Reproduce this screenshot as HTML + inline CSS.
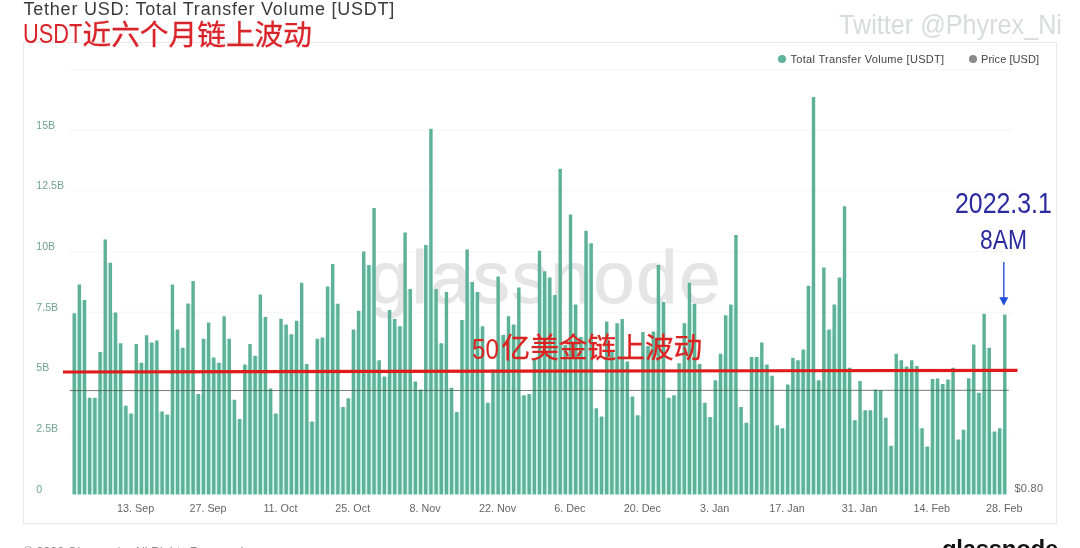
<!DOCTYPE html>
<html lang="zh">
<head>
<meta charset="utf-8">
<title>Tether USD: Total Transfer Volume [USDT]</title>
<style>
html,body{margin:0;padding:0;background:#fff;}
body{width:1080px;height:548px;overflow:hidden;position:relative;font-family:"Liberation Sans","Noto Sans CJK SC",sans-serif;}
.abs{position:absolute;white-space:nowrap;line-height:1;transform-origin:0 0;}
.cjk{font-family:"Noto Sans CJK SC","Liberation Sans",sans-serif;font-weight:400;}
#title{left:23.5px;top:-0.3px;font-size:18px;letter-spacing:0.77px;color:#3a3a3a;}
#subA{left:23px;top:19.1px;color:#da242a;font-size:28.5px;transform:scaleX(0.765);}
#subB{left:82.5px;top:18.5px;color:#da242a;font-size:28.7px;-webkit-text-stroke:0.3px #da242a;}
#tw{left:838.5px;top:10.7px;font-size:27.5px;color:#d9dbdb;transform:scaleX(0.916);}
#box{position:absolute;left:23px;top:42px;width:1032px;height:480px;border:1px solid #e9e9e9;box-sizing:content-box;}
.leg{font-size:11px;color:#444;top:53.5px;}
.dot{position:absolute;width:8px;height:8px;border-radius:50%;top:55px;}
.yl{position:absolute;left:36.3px;font-size:10.6px;line-height:14px;color:#6fa391;white-space:nowrap;}
.xl{position:absolute;top:501px;width:60px;text-align:center;font-size:10.8px;line-height:14px;color:#666;white-space:nowrap;}
#wm{left:368.5px;top:241px;font-size:74.3px;letter-spacing:1.66px;color:#e5e5e5;-webkit-text-stroke:0.8px #e5e5e5;}
#annA{left:471.6px;top:334.7px;color:#dd2222;font-size:29px;transform:scaleX(0.83);}
#annB{left:501.5px;top:332.2px;color:#dd2222;font-size:28.7px;-webkit-text-stroke:0.3px #dd2222;}
.blue{color:#2b2aa0;font-size:29.6px;}
#b1{left:955px;top:188px;transform:scaleX(0.841);}
#b2{left:980.2px;top:226.4px;font-size:28px;transform:scaleX(0.815);}
#price{left:1014.5px;top:481px;font-size:11px;line-height:14px;color:#666;letter-spacing:0.25px;}
#foot{left:23.6px;top:545.8px;font-size:12.5px;color:#8a8a8a;}
#logo{left:942px;top:537.2px;font-size:24px;font-weight:700;color:#111;letter-spacing:-0.3px;}
svg{position:absolute;left:0;top:0;}
.grp{position:absolute;left:0;top:0;width:0;height:0;}
</style>
</head>
<body>
<div id="box"></div>
<div id="title" class="abs">Tether USD: Total Transfer Volume [USDT]</div>
<div id="tw" class="abs">Twitter @Phyrex_Ni</div>
<div class="dot" style="left:778px;background:#5fb398"></div>
<div id="leg1" class="abs leg" style="left:790.5px;letter-spacing:0.3px">Total Transfer Volume [USDT]</div>
<div class="dot" style="left:969px;background:#8a8a8a"></div>
<div id="leg2" class="abs leg" style="left:981px;letter-spacing:0.05px">Price [USD]</div>
<div class="yl" style="top:481.90px">0</div><div class="yl" style="top:421.17px">2.5B</div><div class="yl" style="top:360.44px">5B</div><div class="yl" style="top:299.71px">7.5B</div><div class="yl" style="top:238.98px">10B</div><div class="yl" style="top:178.25px">12.5B</div><div class="yl" style="top:117.52px">15B</div>
<div class="xl" style="left:105.64px">13. Sep</div><div class="xl" style="left:178.02px">27. Sep</div><div class="xl" style="left:250.40px">11. Oct</div><div class="xl" style="left:322.78px">25. Oct</div><div class="xl" style="left:395.16px">8. Nov</div><div class="xl" style="left:467.54px">22. Nov</div><div class="xl" style="left:539.92px">6. Dec</div><div class="xl" style="left:612.30px">20. Dec</div><div class="xl" style="left:684.68px">3. Jan</div><div class="xl" style="left:757.06px">17. Jan</div><div class="xl" style="left:829.44px">31. Jan</div><div class="xl" style="left:901.82px">14. Feb</div><div class="xl" style="left:974.20px">28. Feb</div>
<div id="price" class="abs">$0.80</div>
<svg id="gridsvg" width="1080" height="548" viewBox="0 0 1080 548">
<g stroke="#f6f6f6" stroke-width="1"><line x1="69" x2="1012.5" y1="433.77" y2="433.77"/><line x1="69" x2="1012.5" y1="373.04" y2="373.04"/><line x1="69" x2="1012.5" y1="312.31" y2="312.31"/><line x1="69" x2="1012.5" y1="251.58" y2="251.58"/><line x1="69" x2="1012.5" y1="190.85" y2="190.85"/><line x1="69" x2="1012.5" y1="130.12" y2="130.12"/><line x1="69" x2="1012.5" y1="69.39" y2="69.39"/></g>
</svg>
<div id="wm" class="abs">glassnode</div>
<svg id="chartsvg" width="1080" height="548" viewBox="0 0 1080 548">
<g fill="#d3f5e9"><rect x="74.20" y="313.75" width="5.17" height="180.65"/><rect x="79.37" y="300.50" width="5.17" height="193.90"/><rect x="84.54" y="398.25" width="5.17" height="96.15"/><rect x="89.71" y="398.25" width="5.17" height="96.15"/><rect x="94.88" y="398.25" width="5.17" height="96.15"/><rect x="100.05" y="352.50" width="5.17" height="141.90"/><rect x="105.22" y="263.25" width="5.17" height="231.15"/><rect x="110.39" y="313.00" width="5.17" height="181.40"/><rect x="115.56" y="343.75" width="5.17" height="150.65"/><rect x="120.73" y="406.25" width="5.17" height="88.15"/><rect x="125.90" y="414.00" width="5.17" height="80.40"/><rect x="131.07" y="414.00" width="5.17" height="80.40"/><rect x="136.24" y="363.25" width="5.17" height="131.15"/><rect x="141.41" y="363.25" width="5.17" height="131.15"/><rect x="146.58" y="343.00" width="5.17" height="151.40"/><rect x="151.75" y="343.00" width="5.17" height="151.40"/><rect x="156.92" y="412.00" width="5.17" height="82.40"/><rect x="162.09" y="415.00" width="5.17" height="79.40"/><rect x="167.26" y="415.00" width="5.17" height="79.40"/><rect x="172.43" y="330.00" width="5.17" height="164.40"/><rect x="177.60" y="348.25" width="5.17" height="146.15"/><rect x="182.77" y="348.25" width="5.17" height="146.15"/><rect x="187.94" y="304.00" width="5.17" height="190.40"/><rect x="193.11" y="394.50" width="5.17" height="99.90"/><rect x="198.28" y="394.50" width="5.17" height="99.90"/><rect x="203.45" y="339.25" width="5.17" height="155.15"/><rect x="208.62" y="358.00" width="5.17" height="136.40"/><rect x="213.79" y="363.25" width="5.17" height="131.15"/><rect x="218.96" y="363.25" width="5.17" height="131.15"/><rect x="224.13" y="339.25" width="5.17" height="155.15"/><rect x="229.30" y="400.25" width="5.17" height="94.15"/><rect x="234.47" y="419.50" width="5.17" height="74.90"/><rect x="239.64" y="419.50" width="5.17" height="74.90"/><rect x="244.81" y="365.00" width="5.17" height="129.40"/><rect x="249.98" y="356.25" width="5.17" height="138.15"/><rect x="255.15" y="356.25" width="5.17" height="138.15"/><rect x="260.32" y="317.50" width="5.17" height="176.90"/><rect x="265.49" y="389.00" width="5.17" height="105.40"/><rect x="270.66" y="414.00" width="5.17" height="80.40"/><rect x="275.83" y="414.00" width="5.17" height="80.40"/><rect x="281.00" y="325.00" width="5.17" height="169.40"/><rect x="286.17" y="334.75" width="5.17" height="159.65"/><rect x="291.34" y="334.75" width="5.17" height="159.65"/><rect x="296.51" y="321.25" width="5.17" height="173.15"/><rect x="301.68" y="364.50" width="5.17" height="129.90"/><rect x="306.85" y="422.00" width="5.17" height="72.40"/><rect x="312.02" y="422.00" width="5.17" height="72.40"/><rect x="317.19" y="339.25" width="5.17" height="155.15"/><rect x="322.36" y="338.00" width="5.17" height="156.40"/><rect x="327.53" y="287.00" width="5.17" height="207.40"/><rect x="332.70" y="304.25" width="5.17" height="190.15"/><rect x="337.87" y="407.50" width="5.17" height="86.90"/><rect x="343.04" y="407.50" width="5.17" height="86.90"/><rect x="348.21" y="398.75" width="5.17" height="95.65"/><rect x="353.38" y="330.00" width="5.17" height="164.40"/><rect x="358.55" y="311.25" width="5.17" height="183.15"/><rect x="363.72" y="265.50" width="5.17" height="228.90"/><rect x="368.89" y="265.50" width="5.17" height="228.90"/><rect x="374.06" y="360.75" width="5.17" height="133.65"/><rect x="379.23" y="377.00" width="5.17" height="117.40"/><rect x="384.40" y="377.00" width="5.17" height="117.40"/><rect x="389.57" y="319.50" width="5.17" height="174.90"/><rect x="394.74" y="326.75" width="5.17" height="167.65"/><rect x="399.91" y="326.75" width="5.17" height="167.65"/><rect x="405.08" y="289.50" width="5.17" height="204.90"/><rect x="410.25" y="382.00" width="5.17" height="112.40"/><rect x="415.42" y="390.00" width="5.17" height="104.40"/><rect x="420.59" y="390.00" width="5.17" height="104.40"/><rect x="425.76" y="245.50" width="5.17" height="248.90"/><rect x="430.93" y="289.50" width="5.17" height="204.90"/><rect x="436.10" y="343.75" width="5.17" height="150.65"/><rect x="441.27" y="343.75" width="5.17" height="150.65"/><rect x="446.44" y="388.25" width="5.17" height="106.15"/><rect x="451.61" y="412.50" width="5.17" height="81.90"/><rect x="456.78" y="412.50" width="5.17" height="81.90"/><rect x="461.95" y="320.50" width="5.17" height="173.90"/><rect x="467.12" y="282.50" width="5.17" height="211.90"/><rect x="472.29" y="292.50" width="5.17" height="201.90"/><rect x="477.46" y="326.75" width="5.17" height="167.65"/><rect x="482.63" y="403.25" width="5.17" height="91.15"/><rect x="487.80" y="403.25" width="5.17" height="91.15"/><rect x="492.97" y="370.00" width="5.17" height="124.40"/><rect x="498.14" y="335.50" width="5.17" height="158.90"/><rect x="503.31" y="335.50" width="5.17" height="158.90"/><rect x="508.48" y="325.00" width="5.17" height="169.40"/><rect x="513.65" y="325.00" width="5.17" height="169.40"/><rect x="518.82" y="395.75" width="5.17" height="98.65"/><rect x="523.99" y="395.75" width="5.17" height="98.65"/><rect x="529.16" y="394.50" width="5.17" height="99.90"/><rect x="534.33" y="360.50" width="5.17" height="133.90"/><rect x="539.50" y="271.75" width="5.17" height="222.65"/><rect x="544.67" y="278.00" width="5.17" height="216.40"/><rect x="549.84" y="295.50" width="5.17" height="198.90"/><rect x="555.01" y="295.50" width="5.17" height="198.90"/><rect x="560.18" y="345.50" width="5.17" height="148.90"/><rect x="565.35" y="345.50" width="5.17" height="148.90"/><rect x="570.52" y="305.00" width="5.17" height="189.40"/><rect x="575.69" y="337.50" width="5.17" height="156.90"/><rect x="580.86" y="337.50" width="5.17" height="156.90"/><rect x="586.03" y="243.75" width="5.17" height="250.65"/><rect x="591.20" y="408.75" width="5.17" height="85.65"/><rect x="596.37" y="417.00" width="5.17" height="77.40"/><rect x="601.54" y="417.00" width="5.17" height="77.40"/><rect x="606.71" y="352.50" width="5.17" height="141.90"/><rect x="611.88" y="352.50" width="5.17" height="141.90"/><rect x="617.05" y="323.75" width="5.17" height="170.65"/><rect x="622.22" y="362.00" width="5.17" height="132.40"/><rect x="627.39" y="397.00" width="5.17" height="97.40"/><rect x="632.56" y="415.75" width="5.17" height="78.65"/><rect x="637.73" y="415.75" width="5.17" height="78.65"/><rect x="642.90" y="346.50" width="5.17" height="147.90"/><rect x="648.07" y="346.50" width="5.17" height="147.90"/><rect x="653.24" y="332.00" width="5.17" height="162.40"/><rect x="658.41" y="302.50" width="5.17" height="191.90"/><rect x="663.58" y="398.25" width="5.17" height="96.15"/><rect x="668.75" y="398.25" width="5.17" height="96.15"/><rect x="673.92" y="395.75" width="5.17" height="98.65"/><rect x="679.09" y="363.75" width="5.17" height="130.65"/><rect x="684.26" y="323.75" width="5.17" height="170.65"/><rect x="689.43" y="304.25" width="5.17" height="190.15"/><rect x="694.60" y="364.50" width="5.17" height="129.90"/><rect x="699.77" y="403.25" width="5.17" height="91.15"/><rect x="704.94" y="417.50" width="5.17" height="76.90"/><rect x="710.11" y="417.50" width="5.17" height="76.90"/><rect x="715.28" y="380.75" width="5.17" height="113.65"/><rect x="720.45" y="354.25" width="5.17" height="140.15"/><rect x="725.62" y="315.75" width="5.17" height="178.65"/><rect x="730.79" y="305.00" width="5.17" height="189.40"/><rect x="735.96" y="407.50" width="5.17" height="86.90"/><rect x="741.13" y="423.25" width="5.17" height="71.15"/><rect x="746.30" y="423.25" width="5.17" height="71.15"/><rect x="751.47" y="357.50" width="5.17" height="136.90"/><rect x="756.64" y="357.50" width="5.17" height="136.90"/><rect x="761.81" y="365.00" width="5.17" height="129.40"/><rect x="766.98" y="376.25" width="5.17" height="118.15"/><rect x="772.15" y="425.75" width="5.17" height="68.65"/><rect x="777.32" y="428.75" width="5.17" height="65.65"/><rect x="782.49" y="428.75" width="5.17" height="65.65"/><rect x="787.66" y="385.00" width="5.17" height="109.40"/><rect x="792.83" y="360.75" width="5.17" height="133.65"/><rect x="798.00" y="360.75" width="5.17" height="133.65"/><rect x="803.17" y="350.00" width="5.17" height="144.40"/><rect x="808.34" y="286.25" width="5.17" height="208.15"/><rect x="813.51" y="380.75" width="5.17" height="113.65"/><rect x="818.68" y="380.75" width="5.17" height="113.65"/><rect x="823.85" y="330.00" width="5.17" height="164.40"/><rect x="829.02" y="330.00" width="5.17" height="164.40"/><rect x="834.19" y="305.00" width="5.17" height="189.40"/><rect x="839.36" y="278.00" width="5.17" height="216.40"/><rect x="844.53" y="368.25" width="5.17" height="126.15"/><rect x="849.70" y="420.75" width="5.17" height="73.65"/><rect x="854.87" y="420.75" width="5.17" height="73.65"/><rect x="860.04" y="410.75" width="5.17" height="83.65"/><rect x="865.21" y="410.75" width="5.17" height="83.65"/><rect x="870.38" y="410.75" width="5.17" height="83.65"/><rect x="875.55" y="390.75" width="5.17" height="103.65"/><rect x="880.72" y="418.25" width="5.17" height="76.15"/><rect x="885.89" y="446.25" width="5.17" height="48.15"/><rect x="891.06" y="446.25" width="5.17" height="48.15"/><rect x="896.23" y="360.75" width="5.17" height="133.65"/><rect x="901.40" y="367.00" width="5.17" height="127.40"/><rect x="906.57" y="367.00" width="5.17" height="127.40"/><rect x="911.74" y="366.50" width="5.17" height="127.90"/><rect x="916.91" y="428.75" width="5.17" height="65.65"/><rect x="922.08" y="447.00" width="5.17" height="47.40"/><rect x="927.25" y="447.00" width="5.17" height="47.40"/><rect x="932.42" y="379.50" width="5.17" height="114.90"/><rect x="937.59" y="384.50" width="5.17" height="109.90"/><rect x="942.76" y="384.50" width="5.17" height="109.90"/><rect x="947.93" y="380.00" width="5.17" height="114.40"/><rect x="953.10" y="440.00" width="5.17" height="54.40"/><rect x="958.27" y="440.00" width="5.17" height="54.40"/><rect x="963.44" y="430.25" width="5.17" height="64.15"/><rect x="968.61" y="378.75" width="5.17" height="115.65"/><rect x="973.78" y="393.25" width="5.17" height="101.15"/><rect x="978.95" y="393.25" width="5.17" height="101.15"/><rect x="984.12" y="348.25" width="5.17" height="146.15"/><rect x="989.29" y="432.00" width="5.17" height="62.40"/><rect x="994.46" y="432.00" width="5.17" height="62.40"/><rect x="999.63" y="428.75" width="5.17" height="65.65"/></g>
<g fill="#5db196"><rect x="72.50" y="313.25" width="3.4" height="181.15"/><rect x="77.67" y="284.50" width="3.4" height="209.90"/><rect x="82.84" y="300.00" width="3.4" height="194.40"/><rect x="88.01" y="397.75" width="3.4" height="96.65"/><rect x="93.18" y="397.75" width="3.4" height="96.65"/><rect x="98.35" y="352.00" width="3.4" height="142.40"/><rect x="103.52" y="239.50" width="3.4" height="254.90"/><rect x="108.69" y="262.75" width="3.4" height="231.65"/><rect x="113.86" y="312.50" width="3.4" height="181.90"/><rect x="119.03" y="343.25" width="3.4" height="151.15"/><rect x="124.20" y="405.75" width="3.4" height="88.65"/><rect x="129.37" y="413.50" width="3.4" height="80.90"/><rect x="134.54" y="344.00" width="3.4" height="150.40"/><rect x="139.71" y="362.75" width="3.4" height="131.65"/><rect x="144.88" y="335.25" width="3.4" height="159.15"/><rect x="150.05" y="342.50" width="3.4" height="151.90"/><rect x="155.22" y="340.50" width="3.4" height="153.90"/><rect x="160.39" y="411.50" width="3.4" height="82.90"/><rect x="165.56" y="414.50" width="3.4" height="79.90"/><rect x="170.73" y="284.50" width="3.4" height="209.90"/><rect x="175.90" y="329.50" width="3.4" height="164.90"/><rect x="181.07" y="347.75" width="3.4" height="146.65"/><rect x="186.24" y="303.50" width="3.4" height="190.90"/><rect x="191.41" y="281.00" width="3.4" height="213.40"/><rect x="196.58" y="394.00" width="3.4" height="100.40"/><rect x="201.75" y="338.75" width="3.4" height="155.65"/><rect x="206.92" y="322.50" width="3.4" height="171.90"/><rect x="212.09" y="357.50" width="3.4" height="136.90"/><rect x="217.26" y="362.75" width="3.4" height="131.65"/><rect x="222.43" y="316.25" width="3.4" height="178.15"/><rect x="227.60" y="338.75" width="3.4" height="155.65"/><rect x="232.77" y="399.75" width="3.4" height="94.65"/><rect x="237.94" y="419.00" width="3.4" height="75.40"/><rect x="243.11" y="364.50" width="3.4" height="129.90"/><rect x="248.28" y="344.00" width="3.4" height="150.40"/><rect x="253.45" y="355.75" width="3.4" height="138.65"/><rect x="258.62" y="294.50" width="3.4" height="199.90"/><rect x="263.79" y="317.00" width="3.4" height="177.40"/><rect x="268.96" y="388.50" width="3.4" height="105.90"/><rect x="274.13" y="413.50" width="3.4" height="80.90"/><rect x="279.30" y="318.75" width="3.4" height="175.65"/><rect x="284.47" y="324.50" width="3.4" height="169.90"/><rect x="289.64" y="334.25" width="3.4" height="160.15"/><rect x="294.81" y="320.75" width="3.4" height="173.65"/><rect x="299.98" y="282.75" width="3.4" height="211.65"/><rect x="305.15" y="364.00" width="3.4" height="130.40"/><rect x="310.32" y="421.50" width="3.4" height="72.90"/><rect x="315.49" y="338.75" width="3.4" height="155.65"/><rect x="320.66" y="337.50" width="3.4" height="156.90"/><rect x="325.83" y="286.50" width="3.4" height="207.90"/><rect x="331.00" y="264.00" width="3.4" height="230.40"/><rect x="336.17" y="303.75" width="3.4" height="190.65"/><rect x="341.34" y="407.00" width="3.4" height="87.40"/><rect x="346.51" y="398.25" width="3.4" height="96.15"/><rect x="351.68" y="329.50" width="3.4" height="164.90"/><rect x="356.85" y="310.75" width="3.4" height="183.65"/><rect x="362.02" y="251.50" width="3.4" height="242.90"/><rect x="367.19" y="265.00" width="3.4" height="229.40"/><rect x="372.36" y="208.00" width="3.4" height="286.40"/><rect x="377.53" y="360.25" width="3.4" height="134.15"/><rect x="382.70" y="376.50" width="3.4" height="117.90"/><rect x="387.87" y="310.00" width="3.4" height="184.40"/><rect x="393.04" y="319.00" width="3.4" height="175.40"/><rect x="398.21" y="326.25" width="3.4" height="168.15"/><rect x="403.38" y="232.50" width="3.4" height="261.90"/><rect x="408.55" y="289.00" width="3.4" height="205.40"/><rect x="413.72" y="381.50" width="3.4" height="112.90"/><rect x="418.89" y="389.50" width="3.4" height="104.90"/><rect x="424.06" y="245.00" width="3.4" height="249.40"/><rect x="429.23" y="128.75" width="3.4" height="365.65"/><rect x="434.40" y="289.00" width="3.4" height="205.40"/><rect x="439.57" y="343.25" width="3.4" height="151.15"/><rect x="444.74" y="292.00" width="3.4" height="202.40"/><rect x="449.91" y="387.75" width="3.4" height="106.65"/><rect x="455.08" y="412.00" width="3.4" height="82.40"/><rect x="460.25" y="320.00" width="3.4" height="174.40"/><rect x="465.42" y="249.50" width="3.4" height="244.90"/><rect x="470.59" y="282.00" width="3.4" height="212.40"/><rect x="475.76" y="292.00" width="3.4" height="202.40"/><rect x="480.93" y="326.25" width="3.4" height="168.15"/><rect x="486.10" y="402.75" width="3.4" height="91.65"/><rect x="491.27" y="369.50" width="3.4" height="124.90"/><rect x="496.44" y="276.50" width="3.4" height="217.90"/><rect x="501.61" y="335.00" width="3.4" height="159.40"/><rect x="506.78" y="316.25" width="3.4" height="178.15"/><rect x="511.95" y="324.50" width="3.4" height="169.90"/><rect x="517.12" y="287.50" width="3.4" height="206.90"/><rect x="522.29" y="395.25" width="3.4" height="99.15"/><rect x="527.46" y="394.00" width="3.4" height="100.40"/><rect x="532.63" y="360.00" width="3.4" height="134.40"/><rect x="537.80" y="250.75" width="3.4" height="243.65"/><rect x="542.97" y="271.25" width="3.4" height="223.15"/><rect x="548.14" y="277.50" width="3.4" height="216.90"/><rect x="553.31" y="295.00" width="3.4" height="199.40"/><rect x="558.48" y="168.75" width="3.4" height="325.65"/><rect x="563.65" y="345.00" width="3.4" height="149.40"/><rect x="568.82" y="214.50" width="3.4" height="279.90"/><rect x="573.99" y="304.50" width="3.4" height="189.90"/><rect x="579.16" y="337.00" width="3.4" height="157.40"/><rect x="584.33" y="230.75" width="3.4" height="263.65"/><rect x="589.50" y="243.25" width="3.4" height="251.15"/><rect x="594.67" y="408.25" width="3.4" height="86.15"/><rect x="599.84" y="416.50" width="3.4" height="77.90"/><rect x="605.01" y="321.50" width="3.4" height="172.90"/><rect x="610.18" y="352.00" width="3.4" height="142.40"/><rect x="615.35" y="323.25" width="3.4" height="171.15"/><rect x="620.52" y="319.00" width="3.4" height="175.40"/><rect x="625.69" y="361.50" width="3.4" height="132.90"/><rect x="630.86" y="396.50" width="3.4" height="97.90"/><rect x="636.03" y="415.25" width="3.4" height="79.15"/><rect x="641.20" y="332.00" width="3.4" height="162.40"/><rect x="646.37" y="346.00" width="3.4" height="148.40"/><rect x="651.54" y="331.50" width="3.4" height="162.90"/><rect x="656.71" y="265.00" width="3.4" height="229.40"/><rect x="661.88" y="302.00" width="3.4" height="192.40"/><rect x="667.05" y="397.75" width="3.4" height="96.65"/><rect x="672.22" y="395.25" width="3.4" height="99.15"/><rect x="677.39" y="363.25" width="3.4" height="131.15"/><rect x="682.56" y="323.25" width="3.4" height="171.15"/><rect x="687.73" y="282.75" width="3.4" height="211.65"/><rect x="692.90" y="303.75" width="3.4" height="190.65"/><rect x="698.07" y="364.00" width="3.4" height="130.40"/><rect x="703.24" y="402.75" width="3.4" height="91.65"/><rect x="708.41" y="417.00" width="3.4" height="77.40"/><rect x="713.58" y="380.25" width="3.4" height="114.15"/><rect x="718.75" y="353.75" width="3.4" height="140.65"/><rect x="723.92" y="315.25" width="3.4" height="179.15"/><rect x="729.09" y="304.50" width="3.4" height="189.90"/><rect x="734.26" y="235.00" width="3.4" height="259.40"/><rect x="739.43" y="407.00" width="3.4" height="87.40"/><rect x="744.60" y="422.75" width="3.4" height="71.65"/><rect x="749.77" y="357.00" width="3.4" height="137.40"/><rect x="754.94" y="357.00" width="3.4" height="137.40"/><rect x="760.11" y="342.50" width="3.4" height="151.90"/><rect x="765.28" y="364.50" width="3.4" height="129.90"/><rect x="770.45" y="375.75" width="3.4" height="118.65"/><rect x="775.62" y="425.25" width="3.4" height="69.15"/><rect x="780.79" y="428.25" width="3.4" height="66.15"/><rect x="785.96" y="384.50" width="3.4" height="109.90"/><rect x="791.13" y="357.75" width="3.4" height="136.65"/><rect x="796.30" y="360.25" width="3.4" height="134.15"/><rect x="801.47" y="349.50" width="3.4" height="144.90"/><rect x="806.64" y="285.75" width="3.4" height="208.65"/><rect x="811.81" y="97.00" width="3.4" height="397.40"/><rect x="816.98" y="380.25" width="3.4" height="114.15"/><rect x="822.15" y="267.50" width="3.4" height="226.90"/><rect x="827.32" y="329.50" width="3.4" height="164.90"/><rect x="832.49" y="304.50" width="3.4" height="189.90"/><rect x="837.66" y="277.50" width="3.4" height="216.90"/><rect x="842.83" y="206.25" width="3.4" height="288.15"/><rect x="848.00" y="367.75" width="3.4" height="126.65"/><rect x="853.17" y="420.25" width="3.4" height="74.15"/><rect x="858.34" y="381.00" width="3.4" height="113.40"/><rect x="863.51" y="410.25" width="3.4" height="84.15"/><rect x="868.68" y="410.25" width="3.4" height="84.15"/><rect x="873.85" y="389.50" width="3.4" height="104.90"/><rect x="879.02" y="390.25" width="3.4" height="104.15"/><rect x="884.19" y="417.75" width="3.4" height="76.65"/><rect x="889.36" y="445.75" width="3.4" height="48.65"/><rect x="894.53" y="353.75" width="3.4" height="140.65"/><rect x="899.70" y="360.25" width="3.4" height="134.15"/><rect x="904.87" y="366.50" width="3.4" height="127.90"/><rect x="910.04" y="360.25" width="3.4" height="134.15"/><rect x="915.21" y="366.00" width="3.4" height="128.40"/><rect x="920.38" y="428.25" width="3.4" height="66.15"/><rect x="925.55" y="446.50" width="3.4" height="47.90"/><rect x="930.72" y="379.00" width="3.4" height="115.40"/><rect x="935.89" y="378.50" width="3.4" height="115.90"/><rect x="941.06" y="384.00" width="3.4" height="110.40"/><rect x="946.23" y="379.50" width="3.4" height="114.90"/><rect x="951.40" y="367.75" width="3.4" height="126.65"/><rect x="956.57" y="439.50" width="3.4" height="54.90"/><rect x="961.74" y="429.75" width="3.4" height="64.65"/><rect x="966.91" y="378.25" width="3.4" height="116.15"/><rect x="972.08" y="344.50" width="3.4" height="149.90"/><rect x="977.25" y="392.75" width="3.4" height="101.65"/><rect x="982.42" y="313.75" width="3.4" height="180.65"/><rect x="987.59" y="347.75" width="3.4" height="146.65"/><rect x="992.76" y="431.50" width="3.4" height="62.90"/><rect x="997.93" y="428.25" width="3.4" height="66.15"/><rect x="1003.10" y="314.50" width="3.4" height="179.90"/></g>
<line x1="69.5" x2="1008.8" y1="390.6" y2="390.3" stroke="#46584f" stroke-width="0.9" stroke-opacity="0.85"/>
<line x1="63" x2="1017.5" y1="372" y2="370.3" stroke="#e01b1b" stroke-width="3.2"/>
<line x1="1003.8" x2="1003.8" y1="262" y2="299" stroke="#2b4fd0" stroke-width="1.4"/>
<polygon points="999.3,297.2 1008.3,297.2 1003.8,305.8" fill="#1f4fd8"/>
</svg>
<div class="grp"><span id="subA" class="abs">USDT</span><span id="subB" class="abs cjk">近六个月链上波动</span></div>
<div class="grp"><span id="annA" class="abs">50</span><span id="annB" class="abs cjk">亿美金链上波动</span></div>
<div id="b1" class="abs blue">2022.3.1</div>
<div id="b2" class="abs blue">8AM</div>
<div id="foot" class="abs">© 2022 Glassnode. All Rights Reserved.</div>
<div id="logo" class="abs">glassnode</div>
</body>
</html>
